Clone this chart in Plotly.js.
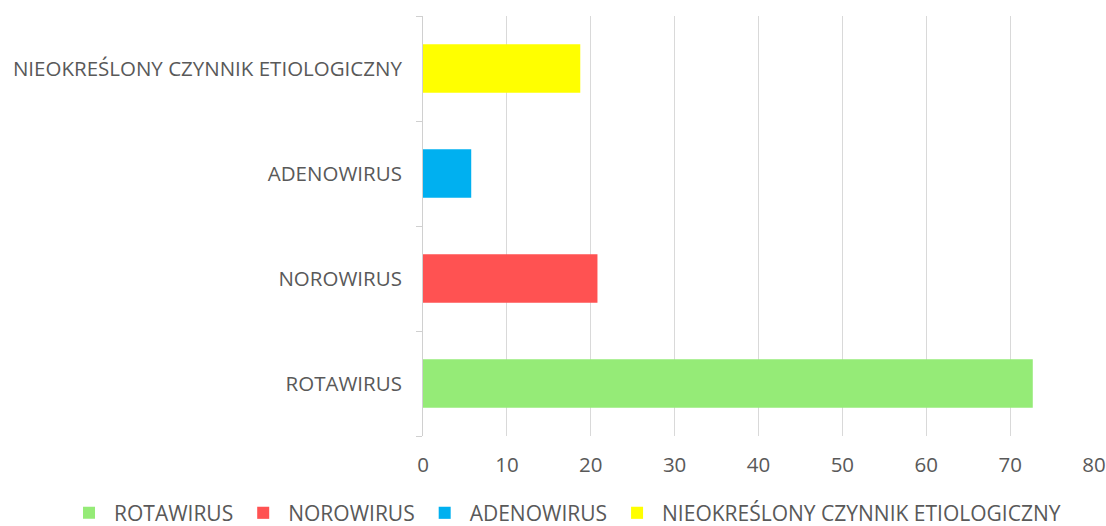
<!DOCTYPE html>
<html>
<head>
<meta charset="utf-8">
<script src="https://cdn.plot.ly/plotly-3.0.1.min.js"></script>
<style>html,body{margin:0;padding:0;background:#fff;}#chart{width:1106px;height:526px;}</style>
</head>
<body>
<div id="chart"></div>
<script>
const categories = ["ROTAWIRUS", "NOROWIRUS", "ADENOWIRUS", "NIEOKREŚLONY CZYNNIK ETIOLOGICZNY"];
const values = [72.7, 20.8, 5.75, 18.75];
const colors = ["#95EB77", "#FF5252", "#00B0F0", "#FFFF00"];
const xTicks = [0, 10, 20, 30, 40, 50, 60, 70, 80];

const traces = categories.map((c, i) => ({
  type: "bar",
  orientation: "h",
  name: c,
  x: [values[i]],
  y: [c],
  width: 0.46,
  marker: {color: colors[i]},
  hoverinfo: "x+y"
}));

const layout = {
  width: 1106, height: 526,
  margin: {l: 423, r: 12, t: 16, b: 90, autoexpand: false},
  paper_bgcolor: "#ffffff", plot_bgcolor: "#ffffff",
  barmode: "overlay",
  font: {family: "Open Sans, sans-serif", size: 20.5, color: "#595959"},
  xaxis: {
    range: [0, 80], tickvals: xTicks, ticktext: xTicks.map(String),
    showgrid: true, gridcolor: "#d9d9d9", gridwidth: 1,
    zeroline: false, showline: false, ticks: "", ticklabelstandoff: 14,
    tickfont: {size: 20.5, color: "#595959"}, fixedrange: true
  },
  yaxis: {
    type: "category", categoryorder: "array", categoryarray: categories,
    showline: true, linecolor: "#d0d0d0", linewidth: 1,
    ticks: "outside", tickson: "boundaries", ticklen: 6, tickcolor: "#d0d0d0",
    showgrid: false, zeroline: false, ticklabelstandoff: 16,
    tickfont: {size: 20.5, color: "#595959"}, fixedrange: true
  },
  showlegend: true,
  legend: {
    orientation: "h", traceorder: "normal",
    xref: "paper", yref: "paper",
    x: -0.535, xanchor: "left", y: -0.135, yanchor: "top",
    font: {size: 21, color: "#595959"}, itemwidth: 40
  }
};

Plotly.newPlot("chart", traces, layout, {displayModeBar: false, staticPlot: true});
</script>
</body>
</html>
